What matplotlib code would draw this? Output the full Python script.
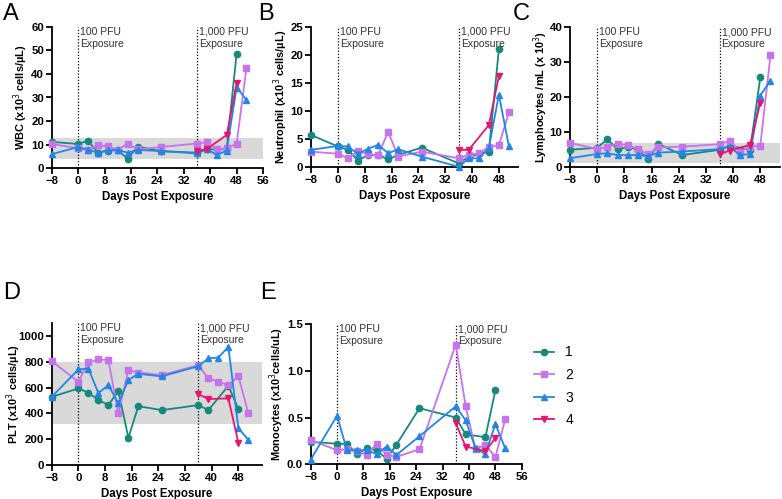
import matplotlib
matplotlib.use("Agg")
import matplotlib.pyplot as plt
from matplotlib.ticker import FormatStrFormatter

plt.rcParams['font.family'] = ['Liberation Sans', 'DejaVu Sans']

# sampling days per animal
days_1 = [-8, 0, 3, 6, 9, 12, 15, 18, 25, 36, 39, 45, 48]
days_2 = [-8, 0, 3, 6, 9, 12, 15, 18, 25, 36, 39, 42, 45, 48, 51]
days_3 = [-8, 0, 3, 6, 9, 12, 15, 18, 25, 36, 39, 42, 45, 48, 51]
days_4 = [36, 39, 45, 48]

# A: WBC
wbc_1 = [11.2, 10.3, 11.7, 6.6, 7.5, 7.7, 4.0, 9.2, 7.3, 6.6, 8.0, 8.2, 48.5]
wbc_2 = [10.3, 8.5, 7.9, 9.8, 9.3, 7.8, 10.5, 8.0, 9.0, 10.5, 11.0, 8.0, 8.5, 10.3, 42.7]
wbc_3 = [6.0, 9.0, 7.9, 6.6, 7.6, 7.8, 6.6, 7.8, 7.3, 6.3, 8.2, 5.6, 7.5, 34.2, 29.0]
wbc_4 = [7.3, 8.2, 14.1, 36.0]

# B: neutrophils
neu_1 = [5.75, 3.7, 3.1, 1.2, 2.2, 2.2, 1.4, 2.2, 3.5, 0.7, 1.9, 2.8, 21.0]
neu_2 = [2.8, 2.4, 1.6, 2.9, 2.4, 2.1, 6.3, 1.9, 2.8, 1.6, 2.2, 2.5, 3.6, 3.9, 9.8]
neu_3 = [3.1, 3.8, 3.7, 2.4, 3.3, 4.0, 2.5, 3.2, 1.9, 0.1, 1.6, 1.6, 3.4, 12.9, 3.7]
neu_4 = [3.1, 3.1, 7.5, 16.2]

# C: lymphocytes
lym_1 = [5.0, 5.6, 8.0, 5.1, 5.9, 5.0, 2.3, 6.7, 3.5, 5.0, 6.2, 5.0, 25.7]
lym_2 = [7.0, 5.2, 5.9, 6.7, 6.4, 5.1, 3.7, 5.7, 5.9, 6.6, 7.6, 4.5, 5.9, 6.2, 32.0]
lym_3 = [2.6, 3.8, 4.0, 3.5, 3.5, 3.5, 3.2, 4.2, 4.5, 5.2, 5.9, 3.5, 3.8, 20.5, 24.8]
lym_4 = [3.7, 4.8, 6.4, 18.5]

# D: platelets
plt_1 = [529, 594, 561, 504, 465, 574, 212, 457, 426, 465, 426, 615, 435]
plt_2 = [806, 646, 796, 819, 814, 401, 736, 718, 698, 775, 672, 645, 620, 690, 401]
plt_3 = [529, 742, 749, 558, 620, 478, 660, 708, 688, 767, 828, 834, 917, 287, 194]
plt_4 = [550, 512, 517, 173]

# E: monocytes
mon_1 = [0.24, 0.22, 0.22, 0.11, 0.17, 0.15, 0.06, 0.21, 0.60, 0.50, 0.32, 0.29, 0.79]
mon_2 = [0.26, 0.15, 0.16, 0.14, 0.10, 0.22, 0.10, 0.08, 0.16, 1.28, 0.62, 0.16, 0.21, 0.075, 0.48]
mon_3 = [0.05, 0.52, 0.15, 0.15, 0.15, 0.11, 0.19, 0.10, 0.30, 0.62, 0.47, 0.17, 0.11, 0.43, 0.17]
mon_4 = [0.44, 0.19, 0.14, 0.28]

labels = ['1', '2', '3', '4']
colors = ['#15897c', '#c774ec', '#2286e6', '#e5166f']
markers = ['o', 's', '^', 'v']
days = [days_1, days_2, days_3, days_4]

W, H = 782, 499
fig = plt.figure(figsize=(W / 100, H / 100), dpi=100)


def px_axes(x0, y0, x1, y1):
    ax = fig.add_axes([x0 / W, 1 - y1 / H, (x1 - x0) / W, (y1 - y0) / H])
    ax.x0_px, ax.w_px = x0, x1 - x0
    return ax


def panel(ax, series, ylabel, ylim, yticks, xmax, xticks, ylab_x, band=None, fmt=None):
    if band is not None:
        ax.axhspan(band[0], band[1], color='#d9d9d9', zorder=0, lw=0)
    for d, vals, c, m, lab in zip(days, series, colors, markers, labels):
        ax.plot(d, vals, color=c, marker=m, markersize=4.5, lw=1.3, label=lab,
                zorder=3, clip_on=False)
    for xv, txt in [(0, '100 PFU\nExposure'), (36, '1,000 PFU\nExposure')]:
        ax.axvline(xv, color='black', ls=(0, (1, 1.5)), lw=0.9, zorder=2)
        ax.text(xv + 0.6, ylim[1], txt, fontsize=7.5, color='#333333', va='top',
                ha='left', linespacing=1.25)
    ax.set_xlim(-8, xmax)
    ax.set_ylim(*ylim)
    ax.set_xticks(xticks)
    ax.set_yticks(yticks)
    if fmt:
        ax.yaxis.set_major_formatter(FormatStrFormatter(fmt))
    for s in ['top', 'right']:
        ax.spines[s].set_visible(False)
    for s in ['left', 'bottom']:
        ax.spines[s].set_linewidth(1.3)
    ax.tick_params(width=1.3, length=4, labelsize=8.2, pad=1.5)
    for t in ax.get_xticklabels() + ax.get_yticklabels():
        t.set_fontweight('bold')
    ax.set_ylabel(ylabel, fontsize=7.9, fontweight='bold', va='center')
    ax.yaxis.set_label_coords((ylab_x - ax.x0_px) / ax.w_px, 0.5)
    ax.set_xlabel('Days Post Exposure', fontsize=8.3, fontweight='bold', labelpad=4)


xt_full = list(range(-8, 57, 8))
xt_48 = list(range(-8, 49, 8))

axA = px_axes(51.7, 26.7, 263, 168.3)
panel(axA, [wbc_1, wbc_2, wbc_3, wbc_4], 'WBC (x10$^3$ cells/µL)', (0, 60),
      range(0, 61, 10), 56, xt_full, 21, band=(4.1, 13.0))

axB = px_axes(311, 26.7, 518, 167.3)
panel(axB, [neu_1, neu_2, neu_3, neu_4], 'Neutrophil (x10$^3$ cells/µL)', (0, 25),
      range(0, 26, 5), 53.7, xt_48, 281)

axC = px_axes(570, 27.3, 780, 167.3)
panel(axC, [lym_1, lym_2, lym_3, lym_4], 'Lymphocytes /mL (x 10$^3$)', (0, 40),
      range(0, 41, 10), 53.8, xt_48, 541, band=(1.3, 7.0))

axD = px_axes(51.7, 323.3, 261.7, 465)
panel(axD, [plt_1, plt_2, plt_3, plt_4], 'PLT (x10$^3$ cells/µL)', (0, 1100),
      range(0, 1001, 200), 55, xt_48, 14, band=(320, 800))

axE = px_axes(310.7, 324, 521.7, 464.3)
panel(axE, [mon_1, mon_2, mon_3, mon_4], 'Monocytes (x10$^3$cells/uL)', (0, 1.5),
      [0, 0.5, 1.0, 1.5], 56, xt_full, 277, fmt='%.1f')

for lab, (x, y) in zip('ABCDE', [(3, 3), (258, 3), (513, 3), (3, 282), (260, 282)]):
    fig.text(x / W, 1 - y / H, lab, fontsize=17, va='top', ha='left')

handles, leg_labels = axA.get_legend_handles_labels()
fig.legend(handles, leg_labels, loc='upper left', bbox_to_anchor=(521 / W, 1 - 333 / H),
           frameon=False, fontsize=10, handlelength=1.5, labelspacing=0.62,
           handletextpad=0.8)

fig.savefig('out.png', dpi=100)
